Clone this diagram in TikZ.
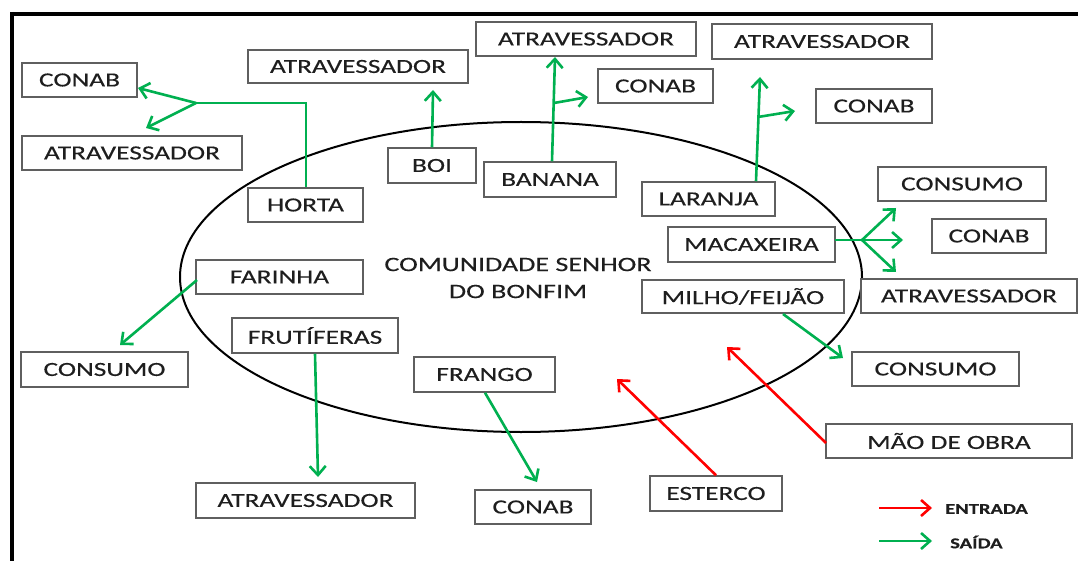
\documentclass[tikz,border=0pt]{standalone}
\usepackage{fontspec}
\setmainfont{Carlito}[FakeStretch=1.37, FakeBold=0.3]
\usetikzlibrary{arrows.meta}
\definecolor{boxgray}{RGB}{95,95,95}
\definecolor{txt}{RGB}{30,30,30}
\definecolor{sgreen}{RGB}{0,176,80}
\definecolor{ered}{RGB}{255,0,0}
\tikzset{
  box/.style={draw=boxgray, line width=1.5pt, fill=white, text=txt, inner sep=0pt,
    minimum height=34pt, font=\fontsize{20}{24}\selectfont},
  saida/.style={draw=sgreen, line width=2.6pt, -{Straight Barb[length=9pt,width=16pt]}},
  saidaline/.style={draw=sgreen, line width=2.6pt},
  entrada/.style={draw=ered, line width=2.6pt, -{Straight Barb[length=9pt,width=16pt]}},
  legendtext/.style={text=txt, inner sep=0pt, anchor=west, font=\fontsize{15}{18}\selectfont\bfseries},
  frame/.style={draw=black, line width=4pt}
}
\begin{document}
\begin{tikzpicture}[x=1pt,y=-1pt]
\useasboundingbox (0,0) rectangle (1078,561);
\fill[white] (0,0) rectangle (1078,561);
% frame
\coordinate (ftr) at (1078,14);
\coordinate (ftl) at (10,14);
\coordinate (fbl) at (12,561);
\draw[frame] (ftr) -- (ftl);
\draw[frame] (12,12) -- (fbl);
% community ellipse
\draw[line width=2pt, black] (521,277) ellipse [x radius=341, y radius=155];
\node[text=txt, align=center, inner sep=0pt, font=\fontsize{20.5}{27}\selectfont] (com) at (518,278)
  {COMUNIDADE SENHOR\\DO BONFIM};
% boxes
\node[box, minimum width=115pt] (conab1) at (79.5,80) {CONAB};
\node[box, minimum width=220pt] (atrav1) at (132,153) {ATRAVESSADOR};
\node[box, minimum width=220pt, minimum height=33pt] (atrav2) at (358,66.5) {ATRAVESSADOR};
\node[box, minimum width=88pt, minimum height=35pt] (boi) at (432,165.5) {BOI};
\node[box, minimum width=115pt] (horta) at (305.5,205) {HORTA};
\node[box, minimum width=132pt, minimum height=35pt] (banana) at (550,179.5) {BANANA};
\node[box, minimum width=220pt] (atrav3) at (586,39) {ATRAVESSADOR};
\node[box, minimum width=115pt] (conab2) at (655.5,86) {CONAB};
\node[box, minimum width=220pt, minimum height=35pt] (atrav4) at (822,41.5) {ATRAVESSADOR};
\node[box, minimum width=116pt] (conab3) at (874,106) {CONAB};
\node[box, minimum width=133pt] (laranja) at (708.5,199) {LARANJA};
\node[box, minimum width=168pt] (consumo1) at (962,184) {CONSUMO};
\node[box, minimum width=114pt] (conab4) at (989,236) {CONAB};
\node[box, minimum width=167pt, minimum height=35pt] (macaxeira) at (751.5,244.5) {MACAXEIRA};
\node[box, minimum width=202pt, minimum height=33pt] (milho) at (743,296.5) {MILHO/FEIJÃO};
\node[box, minimum width=216pt] (atrav5) at (969,296) {ATRAVESSADOR};
\node[box, minimum width=167pt] (consumo2) at (935.5,369) {CONSUMO};
\node[box, minimum width=246pt] (mao) at (949,441) {MÃO DE OBRA};
\node[box, minimum width=132pt, minimum height=35pt] (esterco) at (716,493.5) {ESTERCO};
\node[box, minimum width=116pt] (conab5) at (533,507) {CONAB};
\node[box, minimum width=141pt, minimum height=35pt] (frango) at (484.5,374.5) {FRANGO};
\node[box, minimum width=219pt, minimum height=35pt] (atrav6) at (305.5,500.5) {ATRAVESSADOR};
\node[box, minimum width=166pt, minimum height=35pt] (frut) at (315,335.5) {FRUTÍFERAS};
\node[box, minimum width=167pt, minimum height=35pt] (consumo3) at (104.5,369.5) {CONSUMO};
\node[box, minimum width=167pt] (farinha) at (279.5,277) {FARINHA};
% arrow end coordinates
\coordinate (hj) at (196,103);
\coordinate (hc) at (306,103);
\coordinate (t-conab1) at (138,88);
\coordinate (t-atrav1) at (146,128);
\coordinate (t-atrav2) at (433,90);
\coordinate (t-atrav3) at (555,57);
\coordinate (bj) at (554,103);
\coordinate (t-conab2) at (588,97);
\coordinate (t-atrav4) at (760,77);
\coordinate (lj) at (758,117);
\coordinate (t-conab3) at (795,111);
\coordinate (ms) at (835,240);
\coordinate (mj) at (862,240);
\coordinate (t-consumo1) at (896,208);
\coordinate (t-conab4) at (903,240);
\coordinate (t-atrav5) at (896,272);
\coordinate (fs) at (197,280);
\coordinate (t-consumo3) at (120,345);
\coordinate (t-atrav6) at (318,477);
\coordinate (t-conab5) at (537,482);
\coordinate (milhos) at (783,314);
\coordinate (t-consumo2) at (843,358);
\coordinate (t-com1) at (617,379);
\coordinate (t-com2) at (727,347);
\coordinate (ms2) at (826,443);
% green arrows
\draw[saidaline] (horta.north -| hc) -- (hc) -- (hj);
\draw[saida] (hj) -- (t-conab1);
\draw[saida] (hj) -- (t-atrav1);
\draw[saida] (boi.north) -- (t-atrav2);
\draw[saida] ([xshift=2pt]banana.north) -- (t-atrav3);
\draw[saida] (bj) -- (t-conab2);
\draw[saida] ([xshift=47.5pt]laranja.north) -- (t-atrav4);
\draw[saida] (lj) -- (t-conab3);
\draw[saidaline] (ms) -- (mj);
\draw[saida] (mj) -- (t-consumo1);
\draw[saida] (mj) -- (t-conab4);
\draw[saida] (mj) -- (t-atrav5);
\draw[saida] (fs) -- (t-consumo3);
\draw[saida] (frut.south) -- (t-atrav6);
\draw[saida] ([xshift=0.5pt]frango.south) -- (t-conab5);
\draw[saida] (milhos) -- (t-consumo2);
% red arrows
\draw[entrada] (esterco.north) -- (t-com1);
\draw[entrada] (ms2) -- (t-com2);
% legend
\coordinate (lr1) at (879,508);
\coordinate (lr2) at (932,508);
\coordinate (lg1) at (879,541);
\coordinate (lg2) at (932,541);
\draw[entrada] (lr1) -- (lr2);
\draw[saida] (lg1) -- (lg2);
\node[legendtext] (lent) at (945,509) {ENTRADA};
\node[legendtext] (lsai) at (950,542) {SAÍDA};
\end{tikzpicture}
\end{document}
